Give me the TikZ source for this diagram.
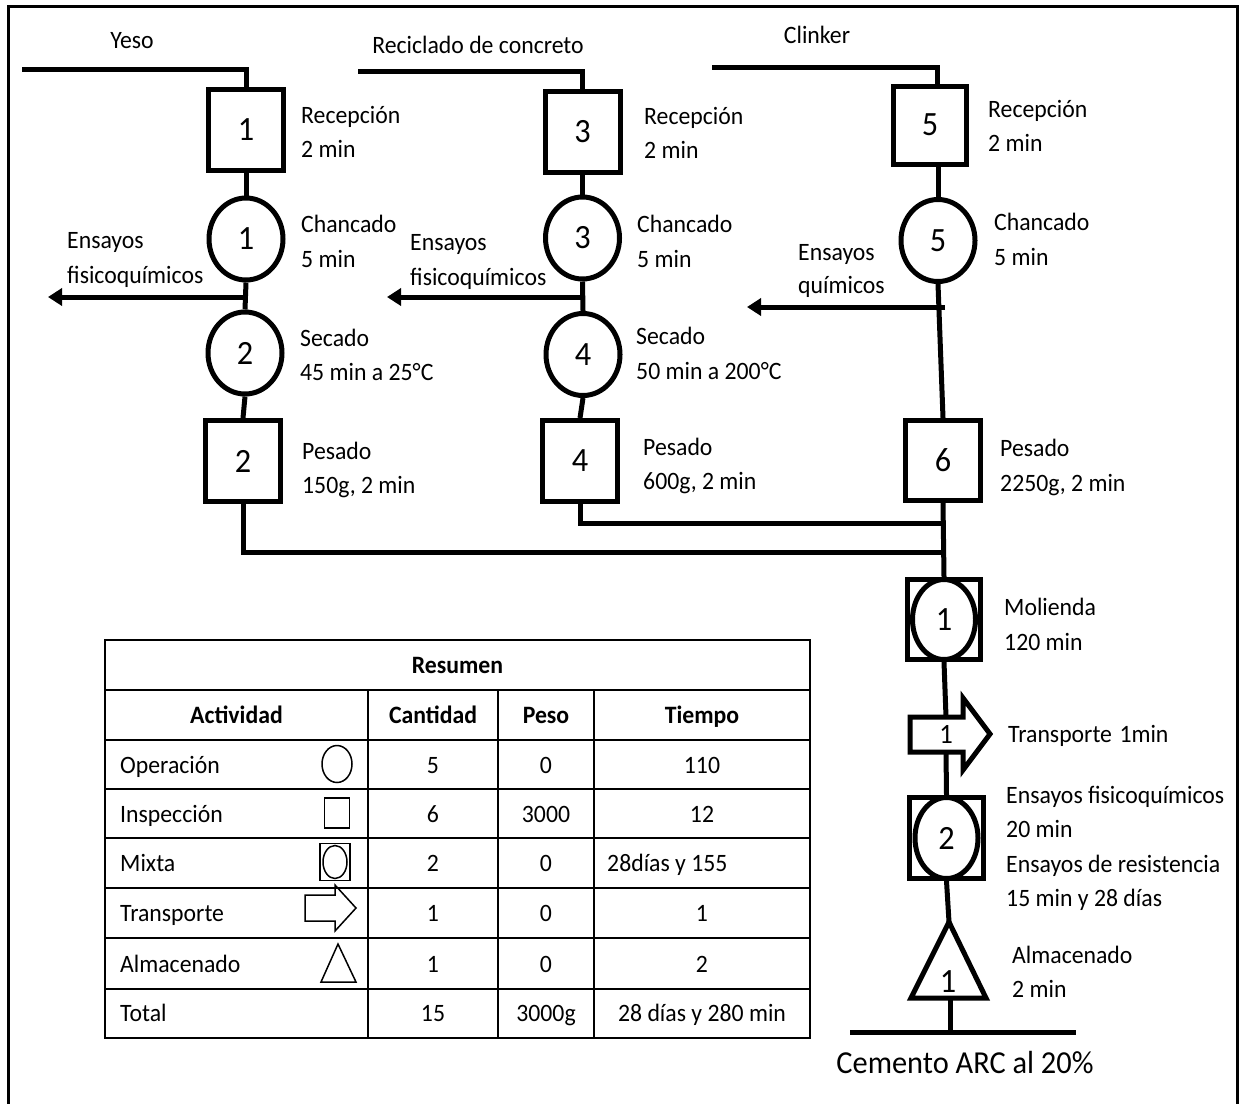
\documentclass[tikz,border=0pt]{standalone}
\usepackage{fontspec}
\setmainfont{Carlito}[FakeStretch=0.95]
\usetikzlibrary{arrows.meta,shapes.geometric}
\newcommand\lblfont{\fontsize{25}{30}\selectfont}
\newcommand\numfont{\fontsize{34}{40}\selectfont}
\newcommand\bigfont{\fontsize{32}{40}\selectfont}
\begin{document}
\begin{tikzpicture}[x=1pt,y=-1pt,
  flow/.style={line width=5pt},
  flowarrow/.style={line width=5pt,-{Triangle[length=14pt,width=17pt]}},
  insp/.style={draw,line width=5pt,inner sep=0pt,minimum width=75pt,minimum height=81pt,font=\numfont},
  oper/.style={draw,ellipse,line width=5pt,inner sep=0pt,minimum width=74pt,minimum height=82pt,font=\numfont},
  mixsq/.style={draw,line width=5pt,inner sep=0pt,minimum width=73pt,minimum height=80pt},
  mixcirc/.style={draw,ellipse,line width=5pt,inner sep=0pt,minimum width=63pt,minimum height=80pt,font=\numfont},
  shapeline/.style={line width=5pt,fill=white},
  lbl/.style={anchor=base west,inner sep=0pt,font=\lblfont},
  lblc/.style={anchor=base,inner sep=0pt,font=\lblfont},
  tbl/.style={line width=1.6pt},
  tsym/.style={draw,line width=1.5pt,inner sep=0pt},
  tblsym/.style={line width=1.5pt}]
\useasboundingbox (0,0) rectangle (1246,1103);
\fill[white] (0,0) rectangle (1246,1103);
% outer frame
\draw[line width=3pt] (8,1110) -- (8,6) -- (1237,6) -- (1237,1110);

% ---------- Column 1: Yeso ----------
\coordinate (yA) at (22,69);
\node[insp] (r1) at (246,129.5) {1};
\node[oper] (c1) at (246,239) {1};
\node[oper] (c2) at (245,353) {2};
\node[insp] (p2) at (243,461) {2};
\coordinate (j1) at (246,297);
\coordinate (e1) at (48,297);
\draw[flow] (yA) -| (r1.north);
\draw[flow] (r1.south) -- (c1.north);
\draw[flow] (c1.south) -- (c2.north);
\draw[flow] (c2.south) -- (p2.north);
\draw[flowarrow] (j1) -- (e1);
\node[lblc] (tYeso) at (132,48) {Yeso};
\node[lbl] (l1a) at (301,123) {Recepción};
\node[lbl] (l1b) at (301,157) {2 min};
\node[lbl] (l2a) at (301,232) {Chancado};
\node[lbl] (l2b) at (301,267) {5 min};
\node[lbl] (l3a) at (67,248) {Ensayos};
\node[lbl] (l3b) at (67,283) {fisicoquímicos};
\node[lbl] (l4a) at (300,346) {Secado};
\node[lbl] (l4b) at (300,380) {45 min a 25°C};
\node[lbl] (l5a) at (302,459) {Pesado};
\node[lbl] (l5b) at (302,493) {150g, 2 min};

% ---------- Column 2: Reciclado ----------
\coordinate (rA) at (358,71);
\node[insp] (r3) at (582.5,132) {3};
\node[oper] (c3) at (582.5,238) {3};
\node[oper] (c4) at (583,354.5) {4};
\node[insp] (p4) at (580,461) {4};
\coordinate (j3) at (582.5,297);
\coordinate (e3) at (387,297);
\draw[flow] (rA) -| (r3.north);
\draw[flow] (r3.south) -- (c3.north);
\draw[flow] (c3.south) -- (c4.north);
\draw[flow] (c4.south) -- (p4.north);
\draw[flowarrow] (j3) -- (e3);
\node[lblc] (tRec) at (478,53) {Reciclado de concreto};
\node[lbl] (m1a) at (644,124) {Recepción};
\node[lbl] (m1b) at (644,158) {2 min};
\node[lbl] (m2a) at (637,232) {Chancado};
\node[lbl] (m2b) at (637,267) {5 min};
\node[lbl] (m3a) at (410,250) {Ensayos};
\node[lbl] (m3b) at (410,285) {fisicoquímicos};
\node[lbl] (m4a) at (636,344) {Secado};
\node[lbl] (m4b) at (636,379) {50 min a 200°C};
\node[lbl] (m5a) at (643,455) {Pesado};
\node[lbl] (m5b) at (643,489) {600g, 2 min};

% ---------- Column 3: Clinker ----------
\coordinate (kA) at (712,67);
\coordinate (kB) at (937,67);
\node[insp,minimum width=73pt,minimum height=78pt] (r5) at (930,125) {5};
\node[oper] (c5) at (938,240.5) {5};
\node[insp,minimum height=80pt] (p6) at (943,460.5) {6};
\coordinate (j5) at (945,307);
\coordinate (e5) at (747,307);
\draw[flow] (kA) -- (kB) -- (kB |- r5.north);
\draw[flow] (c5.north |- r5.south) -- (c5.north);
\draw[flow] (c5.south) -- (p6.north);
\draw[flowarrow] (j5) -- (e5);
\node[lblc] (tCli) at (817,43) {Clinker};
\node[lbl] (n1a) at (988,117) {Recepción};
\node[lbl] (n1b) at (988,151) {2 min};
\node[lbl] (n2a) at (994,230) {Chancado};
\node[lbl] (n2b) at (994,265) {5 min};
\node[lbl] (n3a) at (798,260) {Ensayos};
\node[lbl] (n3b) at (798,293) {químicos};
\node[lbl] (n5a) at (1000,456) {Pesado};
\node[lbl] (n5b) at (1000,491) {2250g, 2 min};

% ---------- Junctions ----------
\coordinate (jn4) at (943,523);
\coordinate (jn2) at (943,552);
\draw[flow] (p4.south) |- (jn4);
\draw[flow] (p2.south) |- (jn2);

% ---------- Right chain ----------
\node[mixsq] (mx1) at (944,619.5) {};
\node[mixcirc] (mx1c) at (mx1.center) {1};
\draw[flow] (p6.south) -- (mx1.north);
\draw[shapeline] (910,717) -- (963,717) -- (963,698) -- (990,734) -- (963,770) -- (963,752) -- (910,752) -- cycle;
\node[inner sep=0pt,minimum height=35pt,font=\fontsize{28}{30}\selectfont] (t1) at (946,734.5) {1};
\node[mixsq,minimum width=74pt,minimum height=81pt] (mx2) at (946.5,838) {};
\node[mixcirc,minimum height=81pt] (mx2c) at (mx2.center) {2};
\draw[flow] (mx1.south) -- (t1.north);
\draw[flow] (t1.south) -- (mx2.north);
\coordinate (triA) at (949,922);
\coordinate (triB) at (950,998);
\draw[shapeline] (triA) -- (986,998) -- (911,998) -- cycle;
\node[anchor=base,inner sep=0pt,font=\numfont] (tri1) at (948,992) {1};
\draw[flow] (mx2.south) -- (triA);
\coordinate (bL) at (850,1032);
\coordinate (bR) at (1076,1032);
\draw[flow] (bL) -- (bR);
\draw[flow] (triB) -- (triB |- bL);
\node[anchor=base,inner sep=0pt,font=\bigfont] (tCem) at (965,1073) {Cemento ARC al 20\%};
\node[lbl] (q1a) at (1004,615) {Molienda};
\node[lbl] (q1b) at (1004,650) {120 min};
\node[lbl] (q2a) at (1008,742) {Transporte\hspace{0.3em}1min};
\node[lbl] (q3a) at (1006,803) {Ensayos fisicoquímicos};
\node[lbl] (q3b) at (1006,837) {20 min};
\node[lbl] (q3c) at (1006,872) {Ensayos de resistencia};
\node[lbl] (q3d) at (1006,906) {15 min y 28 días};
\node[lbl] (q4a) at (1012,963) {Almacenado};
\node[lbl] (q4b) at (1012,997) {2 min};

% ---------- Table ----------
\draw[tbl] (105,640) rectangle (810,1038);
\foreach \yy in {690,740,789,838,888,938,989} \draw[tbl] (105,\yy) -- (810,\yy);
\foreach \xx in {368,498,594} \draw[tbl] (\xx,690) -- (\xx,1038);
\node[lblc] (hRes) at (457.5,673) {\bfseries Resumen};
\node[lblc] (hAct) at (236.5,723) {\bfseries Actividad};
\node[lblc] (hCan) at (433,723) {\bfseries Cantidad};
\node[lblc] (hPes) at (546,723) {\bfseries Peso};
\node[lblc] (hTie) at (702,723) {\bfseries Tiempo};
% rows
\node[lbl] (a1) at (120,773) {Operación};
\node[lbl] (a2) at (120,822) {Inspección};
\node[lbl] (a3) at (120,871.5) {Mixta};
\node[lbl] (a4) at (120,921) {Transporte};
\node[lbl] (a5) at (120,972) {Almacenado};
\node[lbl] (a6) at (120,1021) {Total};
\node[lblc] (b1) at (433,773) {5};
\node[lblc] (b2) at (433,822) {6};
\node[lblc] (b3) at (433,871.5) {2};
\node[lblc] (b4) at (433,921) {1};
\node[lblc] (b5) at (433,972) {1};
\node[lblc] (b6) at (433,1021) {15};
\node[lblc] (d1) at (546,773) {0};
\node[lblc] (d2) at (546,822) {3000};
\node[lblc] (d3) at (546,871.5) {0};
\node[lblc] (d4) at (546,921) {0};
\node[lblc] (d5) at (546,972) {0};
\node[lblc] (d6) at (546,1021) {3000g};
\node[lblc] (f1) at (702,773) {110};
\node[lblc] (f2) at (702,822) {12};
\node[lbl] (f3) at (607,871.5) {28días y 155};
\node[lblc] (f4) at (702,921) {1};
\node[lblc] (f5) at (702,972) {2};
\node[lblc] (f6) at (702,1021) {28 días y 280 min};
% symbols
\node[tsym,ellipse,minimum width=30pt,minimum height=37pt] (s1) at (337,764) {};
\node[tsym,minimum width=25pt,minimum height=30pt] (s2) at (337,813) {};
\node[tsym,minimum width=30pt,minimum height=37pt] (s3) at (335,862) {};
\node[tsym,ellipse,minimum width=24pt,minimum height=33pt] (s3c) at (s3.center) {};
\draw[tblsym] (305,895) -- (335,895) -- (335,885) -- (356,908) -- (335,931) -- (335,921) -- (305,921) -- cycle;
\draw[tblsym] (338,944) -- (356,982) -- (321,982) -- cycle;
\end{tikzpicture}
\end{document}
